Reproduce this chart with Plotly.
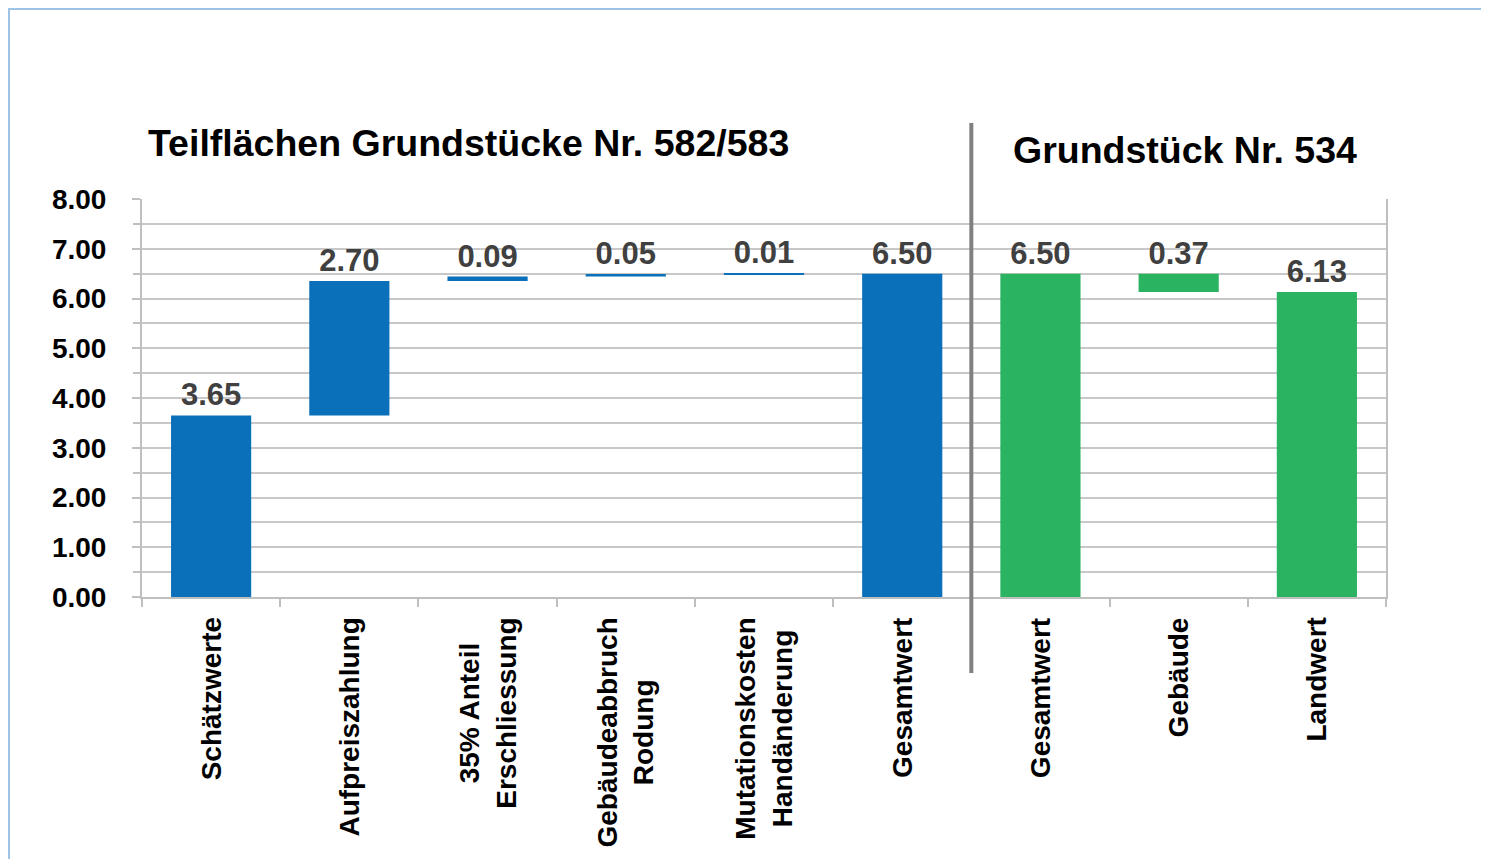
import plotly.graph_objects as go

# ---- data ----
cat_ids = ["k0", "k1", "k2", "k3", "k4", "k5", "k6", "k7", "k8"]
cat_labels = ["Schätzwerte", "Aufpreiszahlung", "35% Anteil<br>Erschliessung",
              "Gebäudeabbruch<br>Rodung", "Mutationskosten<br>Handänderung",
              "Gesamtwert", "Gesamtwert", "Gebäude", "Landwert"]
values = [3.65, 2.70, 0.09, 0.05, 0.01, 6.50, 6.50, 0.37, 6.13]
bases = [0.00, 3.65, 6.35, 6.44, 6.49, 0.00, 0.00, 6.13, 0.00]
group = ["A", "A", "A", "A", "A", "A", "B", "B", "B"]
title_a = "Teilflächen Grundstücke Nr. 582/583"
title_b = "Grundstück Nr. 534"

FONT = "Liberation Sans, Arial, sans-serif"
BLUE = "#0B70BA"
GREEN = "#2AB360"

fig = go.Figure()
for g, col in (("A", BLUE), ("B", GREEN)):
    idx = [i for i, v in enumerate(group) if v == g]
    fig.add_trace(go.Bar(
        x=[cat_ids[i] for i in idx],
        y=[values[i] for i in idx],
        base=[bases[i] for i in idx],
        marker=dict(color=col, line=dict(width=0)),
        text=[f"{values[i]:.2f}" for i in idx],
        textposition="outside",
        constraintext="none",
        cliponaxis=False,
        textfont=dict(family=FONT, size=31, color="#404040", weight="bold"),
        showlegend=False,
        hoverinfo="skip",
    ))

# page body has an 8px margin: figure sized to fill the rest of the window
fig.update_layout(
    width=1481, height=851,
    margin=dict(l=134, r=103, t=191, b=262),
    paper_bgcolor="white", plot_bgcolor="white",
    barmode="overlay", bargap=0.42,
    font=dict(family=FONT, color="black"),
)

fig.update_xaxes(
    type="category",
    categoryorder="array", categoryarray=cat_ids,
    showticklabels=False,
    tickson="boundaries",
    ticks="outside", ticklen=8, tickcolor="#BFBFBF", tickwidth=2,
    showline=True, linecolor="#BFBFBF", linewidth=2,
    showgrid=False,
)

fig.update_yaxes(
    range=[0, 8], dtick=1, tick0=0,
    tickformat=".2f",
    ticks="outside", ticklen=8, tickcolor="#BFBFBF", tickwidth=2,
    ticklabelstandoff=20,
    tickfont=dict(family=FONT, size=28, color="black", weight="bold"),
    showline=True, linecolor="#BFBFBF", linewidth=2, mirror=True,
    showgrid=True, gridcolor="#C8C8C8", gridwidth=1.5,
    minor=dict(dtick=0.5, showgrid=True, gridcolor="#C8C8C8", gridwidth=1.5,
               ticks="outside", ticklen=7, tickcolor="#BFBFBF", tickwidth=2),
    zeroline=False,
)

# category labels (rotated, lines centred)
for cid, lab in zip(cat_ids, cat_labels):
    fig.add_annotation(text=lab, xref="x", yref="paper", x=cid, y=-0.047,
                       xanchor="center", yanchor="top", textangle=-90,
                       align="center", showarrow=False,
                       font=dict(family=FONT, size=28, color="black", weight="bold"))

# separator between the two groups
fig.add_shape(type="line", xref="x", yref="paper",
              x0=5.5, x1=5.5, y0=-0.191, y1=1.191,
              line=dict(color="#808080", width=4))

# outer light-blue frame
fig.add_shape(type="rect", xref="paper", yref="paper",
              x0=-0.1069, x1=1.0812, y0=-0.75, y1=1.4774,
              line=dict(color="#9DC3E6", width=2), fillcolor="rgba(0,0,0,0)", layer="below")

fig.add_annotation(text=title_a, xref="paper", yref="paper", x=0.2625, y=1.1405,
                   xanchor="center", yanchor="middle", showarrow=False,
                   font=dict(family=FONT, size=37.5, color="black", weight="bold"))
fig.add_annotation(text=title_b, xref="paper", yref="paper", x=0.8388, y=1.123,
                   xanchor="center", yanchor="middle", showarrow=False,
                   font=dict(family=FONT, size=37.5, color="black", weight="bold"))

fig.write_html("out.html")
